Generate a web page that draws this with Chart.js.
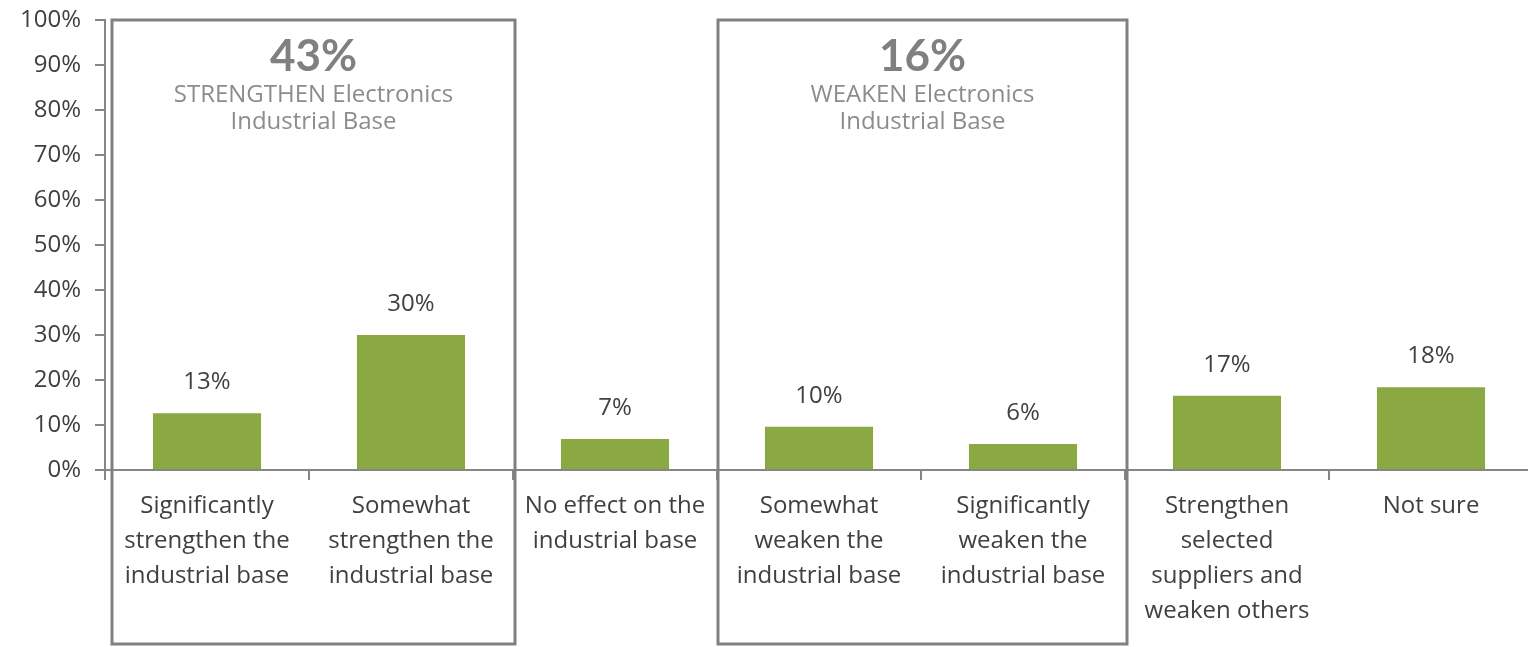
<!DOCTYPE html>
<html>
<head>
<meta charset="utf-8">
<script src="https://cdn.jsdelivr.net/npm/chart.js@4.4.0/dist/chart.umd.min.js"></script>
<style>
  html, body { margin: 0; padding: 0; background: #fff; overflow: hidden; }
  #wrap { width: 1535px; height: 647px; position: relative; }
</style>
</head>
<body>
<div id="wrap"><canvas id="chart"></canvas></div>
<script>
// chart data
const categories = [
  ['Significantly', 'strengthen the', 'industrial base'],
  ['Somewhat', 'strengthen the', 'industrial base'],
  ['No effect on the', 'industrial base'],
  ['Somewhat', 'weaken the', 'industrial base'],
  ['Significantly', 'weaken the', 'industrial base'],
  ['Strengthen', 'selected', 'suppliers and', 'weaken others'],
  ['Not sure']
];
const shares = [12.6, 30, 6.9, 9.6, 5.8, 16.5, 18.4];
const shareLabels = ['13%', '30%', '7%', '10%', '6%', '17%', '18%'];
const yTicks = [0, 10, 20, 30, 40, 50, 60, 70, 80, 90, 100];

const groupRanges = [[0, 1], [3, 4]];
const groupTotals = ['43%', '16%'];
const groupTitles = [
  ['STRENGTHEN Electronics', 'Industrial Base'],
  ['WEAKEN Electronics', 'Industrial Base']
];

const FONT = '"Open Sans", Lato, sans-serif';
const TEXT = '#404040';
const AXIS = '#868686';
const BOX = '#808080';

// value labels above each bar
const valueLabels = {
  id: 'valueLabels',
  afterDatasetsDraw(chart) {
    const ctx = chart.ctx;
    const meta = chart.getDatasetMeta(0);
    ctx.save();
    ctx.font = '24px ' + FONT;
    ctx.fillStyle = TEXT;
    ctx.textAlign = 'center';
    ctx.textBaseline = 'middle';
    meta.data.forEach((bar, i) => {
      ctx.fillText(shareLabels[i], bar.x, bar.y - 31);
    });
    ctx.restore();
  }
};

// grey boxes around the strengthen / weaken groups
const groupBoxes = {
  id: 'groupBoxes',
  afterDraw(chart) {
    const ctx = chart.ctx;
    const x = chart.scales.x;
    const y = chart.scales.y;
    const cat = x.getPixelForValue(1) - x.getPixelForValue(0);
    ctx.save();
    groupRanges.forEach((r, g) => {
      const left = x.getPixelForValue(r[0]) - cat / 2 + (g === 0 ? 7 : 1);
      const right = x.getPixelForValue(r[1]) + cat / 2 + 2;
      const top = y.getPixelForValue(100);
      const bottom = chart.height - 3;
      ctx.strokeStyle = BOX;
      ctx.lineWidth = 3;
      ctx.strokeRect(left, top, right - left, bottom - top);
      const cx = (left + right) / 2;
      ctx.fillStyle = BOX;
      ctx.textAlign = 'center';
      ctx.textBaseline = 'middle';
      ctx.font = 'bold 44px Lato, ' + FONT;
      ctx.fillText(groupTotals[g], cx, top + 37);
      ctx.fillStyle = '#8c8c8c';
      ctx.font = '24px ' + FONT;
      groupTitles[g].forEach((line, k) => {
        ctx.fillText(line, cx, top + 75 + k * 27);
      });
    });
    ctx.restore();
  }
};

new Chart(document.getElementById('chart'), {
  type: 'bar',
  data: {
    labels: categories,
    datasets: [{
      data: shares,
      backgroundColor: '#8aa943',
      barPercentage: 0.53,
      categoryPercentage: 1
    }]
  },
  options: {
    responsive: true,
    maintainAspectRatio: false,
    animation: false,
    layout: { padding: { top: 20, right: 2, left: 0, bottom: 0 } },
    plugins: { legend: { display: false }, tooltip: { enabled: false } },
    scales: {
      x: {
        offset: true,
        grid: {
          offset: true,
          drawOnChartArea: false,
          color: AXIS,
          tickLength: 10,
          lineWidth: 2
        },
        border: { color: AXIS, width: 2 },
        ticks: {
          color: TEXT,
          font: { family: FONT, size: 24, lineHeight: 1.45 },
          padding: 9,
          maxRotation: 0,
          autoSkip: false
        },
        afterFit(scale) {
          scale.height = 177;
          scale.paddingLeft = 0;
          scale.paddingRight = 0;
        }
      },
      y: {
        min: 0,
        max: 100,
        afterBuildTicks(scale) { scale.ticks = yTicks.map(v => ({ value: v })); },
        grid: {
          drawOnChartArea: false,
          color: AXIS,
          tickLength: 10,
          lineWidth: 2
        },
        border: { color: AXIS, width: 2 },
        ticks: {
          color: TEXT,
          font: { family: FONT, size: 24 },
          padding: 14,
          callback: v => v + '%'
        },
        afterFit(scale) {
          scale.width = 105;
          scale.paddingTop = 0;
          scale.paddingBottom = 0;
        }
      }
    }
  },
  plugins: [valueLabels, groupBoxes]
});
</script>
</body>
</html>
